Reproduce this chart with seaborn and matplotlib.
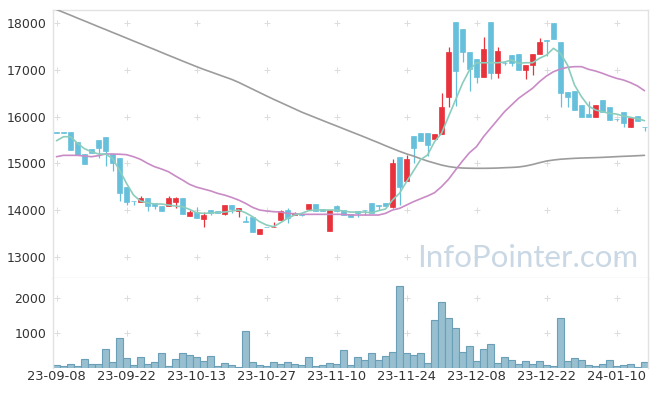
import numpy as np
import pandas as pd
import matplotlib
matplotlib.use("Agg")
import matplotlib.pyplot as plt
import seaborn as sns

# ---------------- data ----------------
dates = ["23-09-08", "23-09-11", "23-09-12", "23-09-13", "23-09-14", "23-09-15", "23-09-18", "23-09-19", "23-09-20", "23-09-21", "23-09-22",
         "23-09-25", "23-09-26", "23-09-27", "23-10-04", "23-10-05", "23-10-06", "23-10-10", "23-10-11", "23-10-12", "23-10-13",
         "23-10-16", "23-10-17", "23-10-18", "23-10-19", "23-10-20", "23-10-23", "23-10-24", "23-10-25", "23-10-26", "23-10-27",
         "23-10-30", "23-10-31", "23-11-01", "23-11-02", "23-11-03", "23-11-06", "23-11-07", "23-11-08", "23-11-09", "23-11-10",
         "23-11-13", "23-11-14", "23-11-15", "23-11-16", "23-11-17", "23-11-20", "23-11-21", "23-11-22", "23-11-23", "23-11-24",
         "23-11-27", "23-11-28", "23-11-29", "23-11-30", "23-12-01", "23-12-04", "23-12-05", "23-12-06", "23-12-07", "23-12-08",
         "23-12-11", "23-12-12", "23-12-13", "23-12-14", "23-12-15", "23-12-18", "23-12-19", "23-12-20", "23-12-21", "23-12-22",
         "23-12-26", "23-12-27", "23-12-28", "24-01-02", "24-01-03", "24-01-04", "24-01-05", "24-01-08", "24-01-09", "24-01-10",
         "24-01-11", "24-01-12", "24-01-15", "24-01-16"]

opens = [15680, 15665, 15670, 15450, 15200, 15310, 15500, 15570, 15200, 15110,
         14485, 14195, 14180, 14255, 14155, 14085, 14090, 14180, 14255, 13875,
         13950, 13805, 14000, 13985, 13920, 14105, 13978, 13765, 13842, 13490,
         13632, 13625, 13791, 14000, 13885, 13920, 14027, 14128, 14020, 13555,
         14082, 14000, 13907, 13978, 14005, 14143, 14105, 14143, 14057, 15128,
         14620, 15585, 15643, 15643, 15527, 15621, 16427, 18021, 17878, 17378,
         17235, 16856, 18021, 16942, 17160, 17320, 17350, 17000, 17106, 17350,
         17640, 18013, 17606, 16528, 16549, 16249, 16056, 15999, 16356, 16206,
         15955, 16099, 15785, 16007, 15785]
closes = [15660, 15655, 15290, 15180, 14990, 15230, 15335, 15270, 15000, 14370,
          14180, 14185, 14260, 14090, 14090, 13985, 14255, 14255, 13920, 13960,
          13820, 13890, 13930, 13930, 14100, 14020, 14035, 13750, 13534, 13585,
          13625, 13635, 13971, 13834, 13928, 13900, 14128, 13971, 13971, 14000,
          13985, 13885, 13849, 13942, 13995, 13928, 14095, 14085, 15013, 14500,
          15092, 15334, 15484, 15400, 15621, 16206, 17385, 16984, 17392, 17014,
          16856, 17449, 16927, 17407, 17150, 17143, 17000, 17106, 17350, 17600,
          17630, 17657, 16513, 16427, 16142, 15999, 15999, 16249, 16106, 15928,
          15945, 15857, 15964, 15914, 15775]
highs = [15680, 15665, 15670, 15450, 15200, 15310, 15500, 15570, 15200, 15110,
         14485, 14195, 14290, 14255, 14155, 14085, 14290, 14270, 14255, 14000,
         14070, 13960, 14000, 13985, 14100, 14105, 14035, 13870, 13842, 13585,
         13632, 13750, 13990, 14050, 13950, 13920, 14128, 14128, 14020, 14000,
         14110, 14000, 13907, 13978, 14005, 14143, 14105, 14143, 15085, 15128,
         15178, 15585, 15643, 15643, 15621, 16500, 17485, 18021, 17878, 17378,
         17235, 17700, 18021, 17500, 17200, 17320, 17350, 17106, 17350, 17679,
         17640, 18013, 17606, 16528, 16549, 16249, 16335, 16249, 16356, 16206,
         15955, 16099, 15964, 16007, 15785]
lows = [15660, 15655, 15290, 15180, 14990, 15230, 15110, 14950, 14825, 14200,
        14110, 14110, 14180, 13980, 14020, 13985, 14090, 14040, 13920, 13875,
        13820, 13640, 13890, 13930, 13900, 13930, 13855, 13750, 13534, 13490,
        13625, 13625, 13791, 13727, 13885, 13880, 14000, 13971, 13971, 13555,
        13985, 13885, 13849, 13850, 13900, 13928, 13990, 14085, 14040, 14105,
        14620, 15000, 15484, 15150, 15527, 15621, 16213, 16228, 17177, 16549,
        16714, 16856, 16800, 16821, 17100, 17080, 17000, 16800, 16900, 17350,
        17306, 17657, 16213, 16200, 16142, 15999, 15999, 15999, 16106, 15928,
        15900, 15785, 15785, 15914, 15700]
volumes = [69, 40, 98, 40, 242, 98, 98, 530, 156, 847,
           271, 69, 300, 98, 156, 415, 40, 242, 415, 357,
           300, 184, 328, 40, 127, 69, 10, 1049, 156, 69,
           40, 156, 98, 156, 98, 69, 300, 40, 69, 127,
           98, 501, 69, 300, 213, 415, 213, 328, 444, 2346,
           415, 357, 415, 127, 1366, 1885, 1424, 1135, 444, 617,
           184, 530, 674, 127, 300, 213, 98, 184, 98, 184,
           69, 40, 1424, 184, 271, 213, 69, 40, 98, 213,
           40, 69, 98, 10, 156]
ma5 = [15484, 15570, 15570, 15428, 15313, 15248, 15200, 15200, 15107, 14856,
       14571, 14320, 14192, 14155, 14128, 14128, 14106, 14085, 14070, 14014,
       13942, 13928, 13935, 13946, 13956, 13978, 14000, 13942, 13857, 13750,
       13678, 13642, 13728, 13821, 13892, 13928, 13985, 14000, 14000, 14000,
       14000, 13978, 13956, 13956, 13956, 13942, 13985, 14021, 14214, 14357,
       14607, 14838, 15078, 15178, 15463, 15643, 16000, 16356, 16714, 17000,
       17155, 17155, 17155, 17155, 17170, 17214, 17143, 17155, 17155, 17250,
       17320, 17464, 17357, 17106, 16678, 16427, 16228, 16142, 16106, 16071,
       16056, 16014, 15985, 15956, 15914]
ma20 = [15142, 15171, 15171, 15171, 15157, 15142, 15164, 15200, 15200, 15195,
        15185, 15142, 15085, 15000, 14928, 14878, 14820, 14728, 14642, 14550,
        14490, 14450, 14410, 14357, 14320, 14271, 14214, 14143, 14057, 14000,
        13978, 13964, 13957, 13928, 13921, 13907, 13907, 13907, 13907, 13907,
        13907, 13907, 13892, 13892, 13892, 13892, 13892, 13928, 14000, 14035,
        14106, 14178, 14240, 14300, 14370, 14500, 14657, 14856, 15050, 15228,
        15357, 15570, 15750, 15928, 16106, 16249, 16392, 16500, 16607, 16750,
        16871, 16963, 17021, 17057, 17071, 17071, 17014, 16978, 16928, 16871,
        16821, 16785, 16728, 16657, 16556]
ma_long = [18296, 18234, 18174, 18111, 18051, 17989, 17927, 17867, 17805, 17745,
           17683, 17621, 17561, 17499, 17439, 17376, 17314, 17254, 17192, 17132,
           17072, 17014, 16961, 16907, 16853, 16800, 16736, 16663, 16590, 16517,
           16444, 16373, 16305, 16236, 16168, 16099, 16039, 15979, 15919, 15859,
           15801, 15741, 15681, 15623, 15563, 15501, 15441, 15377, 15317, 15257,
           15203, 15156, 15100, 15049, 15006, 14963, 14931, 14910, 14899, 14895,
           14893, 14893, 14895, 14899, 14906, 14912, 14921, 14942, 14974, 15013,
           15049, 15071, 15088, 15098, 15107, 15113, 15118, 15122, 15128, 15135,
           15143, 15150, 15156, 15163, 15171]
price_ticks = [13000, 14000, 15000, 16000, 17000, 18000]
volume_ticks = [1000, 2000]

# ---------------- style ----------------
RED = "#e8323c"
BLUE = "#66c0dc"
TEAL = "#8bcdbd"
PURPLE = "#c98bc6"
GRAY = "#9c9c9c"
VOL_FILL = "#97bfd0"
VOL_EDGE = "#6b9fb8"
SPINE = "#e2e2e2"
TXT = "#333333"

sns.set_style("white")
plt.rcParams["font.family"] = ["DejaVu Sans"]

fig = plt.figure(figsize=(6.57, 3.96), dpi=100)
W, H = 657, 396
ax1 = fig.add_axes([53 / W, 1 - 278 / H, 595 / W, 268 / H])
ax2 = fig.add_axes([53 / W, 1 - 367.7 / H, 595 / W, 89.7 / H])

idx = np.arange(len(dates))
o = np.array(opens, float)
c = np.array(closes, float)
hi = np.array(highs, float)
lo = np.array(lows, float)
cols = np.where(c > o, RED, BLUE)

# candles
ax1.vlines(idx, lo, hi, colors=cols, lw=0.9, zorder=2)
ax1.bar(idx, np.abs(c - o), bottom=np.minimum(o, c), width=0.68,
        color=cols, edgecolor=cols, linewidth=0.5, zorder=3)

# moving averages
sns.lineplot(x=idx, y=ma_long, ax=ax1, color=GRAY, lw=1.2, zorder=4)
sns.lineplot(x=idx, y=ma20, ax=ax1, color=PURPLE, lw=1.2, zorder=4)
sns.lineplot(x=idx, y=ma5, ax=ax1, color=TEAL, lw=1.2, zorder=5)

# volume
vdf = pd.DataFrame({"date": dates, "volume": volumes})
sns.barplot(data=vdf, x="date", y="volume", ax=ax2, color=VOL_FILL,
            edgecolor=VOL_EDGE, linewidth=0.8, width=1.0, saturation=1, zorder=2)

# axes setup
for ax in (ax1, ax2):
    ax.set_xlim(-0.5, len(dates) - 0.5)
    ax.set_xlabel("")
    ax.set_ylabel("")
    ax.grid(False)
    for s in ax.spines.values():
        s.set_color(SPINE)
        s.set_linewidth(1.0)
    ax.tick_params(length=0, labelsize=9, colors=TXT, pad=5)

ax1.set_ylim(12543, 18285)
ax1.set_yticks(price_ticks)
ax1.set_xticks([])
ax2.set_ylim(0, 2585)
ax2.set_yticks(volume_ticks)
ax2.set_xticks(idx[::10])
ax2.set_xticklabels(dates[::10])
ax2.tick_params(axis="x", pad=2, labelsize=9.4)
ax2.spines["bottom"].set_visible(False)
ax2.spines["top"].set_visible(False)

# grid plus marks
xt = idx[::10]
for ax, yt in ((ax1, price_ticks), (ax2, volume_ticks)):
    gx, gy = np.meshgrid(xt, yt)
    ax.scatter(gx.ravel(), gy.ravel(), marker="+", s=14, color="#dcdcdc",
               linewidths=0.7, zorder=1)

# watermark
ax1.text(0.983, 0.042, "InfoPointer.com", transform=ax1.transAxes, ha="right",
         va="baseline", fontsize=22.5, family=["Lato", "DejaVu Sans"],
         color="#c9d8e4", zorder=1)

fig.savefig("out.png", dpi=100)
